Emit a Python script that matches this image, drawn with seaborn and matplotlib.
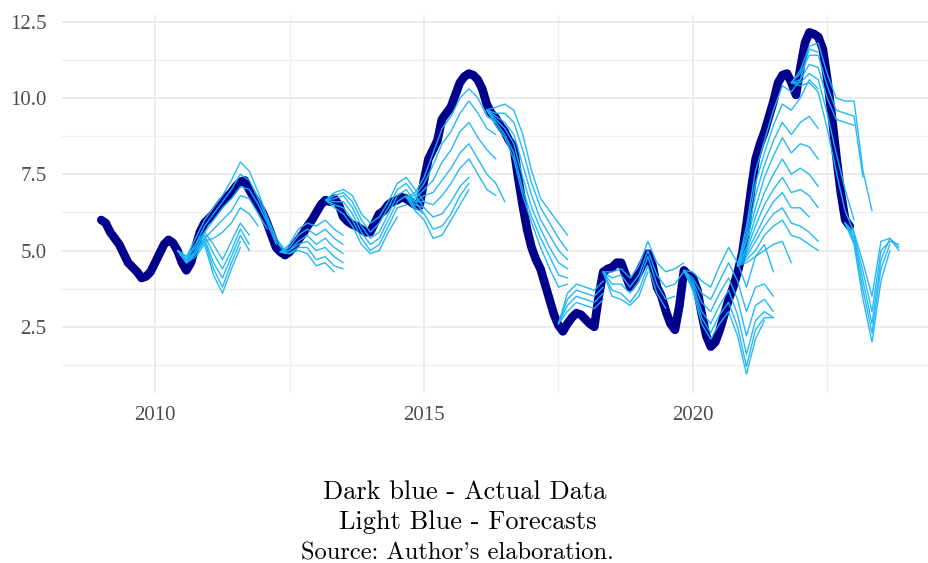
import numpy as np
import pandas as pd
import matplotlib
matplotlib.use("Agg")
import matplotlib.pyplot as plt
import seaborn as sns

# ---------------- data ----------------
actual_start = 2009.0  # monthly series
actual_values = [
    6.0, 5.9, 5.6, 5.4, 5.2, 4.9, 4.6, 4.45, 4.3, 4.1, 4.15, 4.3,          # 2009
    4.6, 4.9, 5.2, 5.35, 5.25, 5.0, 4.6, 4.35, 4.6, 5.1, 5.6, 5.9,         # 2010
    6.05, 6.2, 6.4, 6.6, 6.75, 6.9, 7.1, 7.25, 7.3, 7.0, 6.75, 6.5,        # 2011
    6.25, 5.9, 5.5, 5.1, 4.95, 4.85, 4.95, 5.15, 5.35, 5.55, 5.8, 6.0,     # 2012
    6.25, 6.5, 6.65, 6.6, 6.7, 6.5, 6.1, 5.95, 5.85, 5.8, 5.7, 5.6,        # 2013
    5.6, 5.9, 6.2, 6.3, 6.5, 6.6, 6.65, 6.75, 6.7, 6.6, 6.5, 6.45,         # 2014
    7.3, 8.0, 8.3, 8.6, 9.3, 9.5, 9.7, 10.1, 10.5, 10.7, 10.8, 10.75,      # 2015
    10.6, 10.3, 9.8, 9.5, 9.35, 9.1, 8.9, 8.6, 8.4, 7.4, 6.5, 5.7,         # 2016
    5.1, 4.7, 4.4, 3.9, 3.4, 2.9, 2.55, 2.35, 2.6, 2.8, 2.95, 2.9,         # 2017
    2.75, 2.6, 2.5, 3.5, 4.3, 4.4, 4.45, 4.6, 4.6, 4.2, 3.8, 4.0,          # 2018
    4.3, 4.6, 4.9, 4.5, 3.8, 3.5, 3.0, 2.6, 2.4, 3.2, 4.35, 4.2,           # 2019
    4.1, 3.7, 2.9, 2.2, 1.85, 2.0, 2.4, 2.9, 3.4, 3.8, 4.3, 4.9,           # 2020
    5.9, 7.0, 8.0, 8.5, 8.9, 9.4, 9.9, 10.5, 10.75, 10.8, 10.5, 10.1,      # 2021
    11.0, 11.8, 12.15, 12.1, 12.0, 11.6, 10.6, 9.4, 8.1, 6.9, 6.0, 5.8,    # 2022
]

# forecast paths: values every two months from the block's start date
fc_a_start = 2010.42
fc_a = [
    [5.0, 4.8, 5.4, 6.0, 6.4, 6.8, 7.3, 7.9, 7.6, 6.9, 6.1, 5.4, 5.0],
    [5.0, 4.7, 5.2, 5.8, 6.2, 6.6, 7.0, 7.5, 7.3, 6.7, 6.0, 5.3, 4.9],
    [5.0, 4.6, 5.0, 5.6, 6.0, 6.4, 6.7, 7.1, 7.0, 6.5, 5.9, 5.2],
    [5.0, 4.6, 4.9, 5.4, 5.7, 6.0, 6.3, 6.8, 6.7, 6.2, 5.7],
    [5.0, 4.6, 4.9, 5.3, 5.4, 5.6, 5.9, 6.4, 6.2, 5.8],
    [5.0, 4.8, 5.2, 5.6, 5.2, 4.7, 5.3, 5.9, 5.5],
    [5.0, 4.8, 5.1, 5.5, 4.9, 4.4, 5.0, 5.7, 5.2],
    [5.0, 4.7, 5.0, 5.4, 4.6, 4.1, 4.8, 5.5, 5.0],
    [5.0, 4.7, 4.9, 5.3, 4.4, 3.8, 4.6, 5.3],
    [5.0, 4.6, 4.8, 5.2, 4.2, 3.6, 4.4, 5.1],
]
fc_b_start = 2012.33
fc_b = [
    [4.95, 5.2, 5.7, 5.9, 5.8, 6.0, 5.7, 5.5],
    [4.95, 5.1, 5.5, 5.7, 5.5, 5.7, 5.4, 5.2],
    [4.95, 5.0, 5.3, 5.5, 5.2, 5.4, 5.1, 4.9],
    [4.95, 5.0, 5.2, 5.3, 5.0, 5.1, 4.8, 4.6],
    [4.95, 4.9, 5.1, 5.1, 4.7, 4.8, 4.5, 4.4],
    [4.95, 4.9, 5.0, 4.9, 4.5, 4.6, 4.3],
]
fc_c_start = 2013.17
fc_c = [
    [6.65, 6.9, 7.0, 6.8, 6.2, 5.9, 6.1, 6.6, 7.2, 7.4, 7.0, 6.6],
    [6.65, 6.8, 6.9, 6.6, 6.0, 5.6, 5.9, 6.4, 7.0, 7.2, 6.8, 6.4],
    [6.65, 6.7, 6.8, 6.4, 5.8, 5.4, 5.6, 6.2, 6.8, 7.0, 6.6, 6.2],
    [6.65, 6.6, 6.6, 6.2, 5.6, 5.2, 5.4, 6.0, 6.6, 6.8, 6.4],
    [6.65, 6.5, 6.4, 6.0, 5.4, 5.0, 5.2, 5.8, 6.4, 6.5],
    [6.65, 6.4, 6.2, 5.8, 5.2, 4.9, 5.0, 5.6, 6.1],
]
fc_d_start = 2014.67
fc_d = [
    [6.75, 6.9, 7.4, 8.2, 9.0, 9.4, 10.0, 10.3, 10.0, 9.4, 9.2],
    [6.75, 6.8, 7.2, 7.8, 8.5, 8.9, 9.5, 9.9, 9.5, 9.0, 8.8],
    [6.75, 6.7, 7.0, 7.3, 7.9, 8.3, 8.9, 9.2, 8.7, 8.3, 8.0],
    [6.75, 6.6, 6.8, 6.9, 7.3, 7.7, 8.2, 8.5, 8.0, 7.5, 7.2, 6.6],
    [6.75, 6.6, 6.6, 6.5, 6.8, 7.2, 7.7, 8.0, 7.5, 7.0, 6.8],
    [6.75, 6.5, 6.4, 6.1, 6.2, 6.6, 7.1, 7.4],
    [6.75, 6.4, 6.2, 5.7, 5.8, 6.2, 6.8, 7.2],
    [6.75, 6.3, 6.0, 5.4, 5.5, 6.0, 6.5, 7.0],
]
fc_e_start = 2016.17
fc_e = [
    [9.6, 9.7, 9.8, 9.6, 8.8, 7.6, 6.7, 6.3, 5.9, 5.5],
    [9.6, 9.5, 9.5, 9.2, 8.3, 7.2, 6.4, 5.9, 5.4, 5.0],
    [9.6, 9.4, 9.2, 8.8, 7.8, 6.8, 6.0, 5.5, 5.0, 4.7],
    [9.6, 9.3, 9.0, 8.5, 7.4, 6.4, 5.7, 5.1, 4.6, 4.4],
    [9.6, 9.2, 8.8, 8.2, 7.0, 6.1, 5.4, 4.8, 4.2, 4.1],
    [9.6, 9.1, 8.7, 8.0, 6.8, 5.9, 5.1, 4.4, 3.8, 3.9],
]
fc_f_start = 2017.5
fc_f = [
    [2.6, 3.6, 3.9, 3.8, 3.7, 4.0],
    [2.6, 3.4, 3.7, 3.6, 3.5, 3.8],
    [2.6, 3.2, 3.5, 3.4, 3.3, 3.6],
    [2.6, 3.0, 3.3, 3.2, 3.1, 3.4],
]
fc_g_start = 2018.33
fc_g = [
    [4.3, 4.3, 4.4, 4.1, 4.5, 5.3, 4.6, 4.3, 4.4, 4.6],
    [4.3, 4.1, 4.2, 3.8, 4.2, 5.0, 4.2, 3.8, 3.9, 4.3],
    [4.3, 3.9, 3.9, 3.6, 4.0, 4.8, 3.9, 3.4, 3.5],
    [4.3, 3.7, 3.6, 3.3, 3.7, 4.5, 3.6, 3.1],
    [4.3, 3.5, 3.4, 3.2, 3.5, 4.3],
]
fc_h_start = 2019.83
fc_h = [
    [4.35, 4.3, 4.0, 3.8, 4.5, 5.1, 4.6, 3.8, 4.8, 5.2, 4.3],
    [4.35, 4.1, 3.6, 3.4, 4.0, 4.6, 4.0, 3.0, 3.8, 3.9, 3.5],
    [4.35, 4.0, 3.3, 3.0, 3.6, 4.1, 3.4, 2.2, 3.2, 3.4, 3.0],
    [4.35, 3.9, 3.0, 2.6, 3.2, 3.7, 2.9, 1.6, 2.7, 3.0, 2.8],
    [4.35, 3.8, 2.8, 2.3, 2.9, 3.3, 2.5, 1.2, 2.4, 2.8, 2.8],
    [4.35, 3.7, 2.6, 2.1, 2.6, 3.0, 2.2, 0.95, 2.1, 2.7],
]
fc_i_start = 2020.83
fc_i = [
    [4.5, 5.8, 7.6, 8.6, 9.6, 10.4, 10.2, 10.6, 11.6, 11.5],
    [4.5, 5.6, 7.2, 8.2, 9.1, 9.8, 9.6, 10.0, 10.6, 10.3],
    [4.5, 5.4, 6.8, 7.8, 8.6, 9.2, 8.8, 9.2, 9.4, 9.0],
    [4.5, 5.3, 6.4, 7.4, 8.1, 8.7, 8.2, 8.5, 8.4, 8.0],
    [4.5, 5.1, 6.1, 6.9, 7.5, 8.0, 7.5, 7.7, 7.5, 7.1],
    [4.5, 5.0, 5.8, 6.5, 7.0, 7.4, 6.9, 7.0, 6.8, 6.4],
    [4.5, 4.9, 5.5, 6.1, 6.6, 6.9, 6.4, 6.4, 6.1],
    [4.5, 4.8, 5.3, 5.8, 6.2, 6.4, 5.9, 5.8, 5.6, 5.3],
    [4.5, 4.7, 5.0, 5.5, 5.8, 6.0, 5.5, 5.4, 5.2, 5.0],
    [4.5, 4.6, 4.8, 5.0, 5.2, 5.3, 4.6],
]
fc_j_start = 2021.83
fc_j = [
    [10.5, 10.9, 11.7, 11.8, 10.8, 10.0, 9.9, 9.9, 7.6, 6.3],
    [10.5, 10.8, 11.4, 11.4, 10.4, 9.6, 9.5, 9.4, 7.4],
    [10.5, 10.6, 11.1, 11.0, 10.0, 9.3, 9.2, 9.1],
    [10.5, 10.5, 10.8, 10.6, 9.5, 8.2, 7.0, 6.0],
    [10.5, 10.4, 10.5, 10.2, 9.0, 7.6, 6.3, 5.6],
]
fc_k_start = 2022.83
fc_k = [
    [5.9, 5.6, 4.6, 3.5, 5.3, 5.4, 5.1],
    [5.9, 5.5, 4.3, 3.0, 5.0, 5.3, 5.2],
    [5.9, 5.4, 4.0, 2.6, 4.7, 5.4, 5.0],
    [5.9, 5.3, 3.7, 2.3, 4.4, 5.2],
    [5.9, 5.2, 3.4, 2.0, 4.0, 5.0],
]

x_ticks = [2010, 2015, 2020]
y_ticks = [2.5, 5.0, 7.5, 10.0, 12.5]
caption_lines = ["Dark blue - Actual Data", "Light Blue - Forecasts", "Source: Author's elaboration."]

# ---------------- frames ----------------
actual_df = pd.DataFrame({
    "t": actual_start + np.arange(len(actual_values)) / 12.0,
    "v": actual_values,
})

rows = []
uid = 0
for start, block in [(fc_a_start, fc_a), (fc_b_start, fc_b), (fc_c_start, fc_c),
                     (fc_d_start, fc_d), (fc_e_start, fc_e), (fc_f_start, fc_f),
                     (fc_g_start, fc_g), (fc_h_start, fc_h), (fc_i_start, fc_i),
                     (fc_j_start, fc_j), (fc_k_start, fc_k)]:
    for path in block:
        for i, v in enumerate(path):
            rows.append({"id": uid, "t": start + 2 * i / 12.0, "v": v})
        uid += 1
fc_df = pd.DataFrame(rows)

# ---------------- plot ----------------
sns.set_theme(style="white")
fig = plt.figure(figsize=(9.29, 5.63), dpi=100)
ax = fig.add_axes([62 / 929, 1 - 393 / 563, 1 - 62 / 929, (393 - 15) / 563])
ax.set_facecolor("white")

sns.lineplot(data=actual_df, x="t", y="v", ax=ax, color="#00008B", lw=6.2,
             sort=False, estimator=None, zorder=3)
sns.lineplot(data=fc_df, x="t", y="v", units="id", estimator=None, sort=False,
             ax=ax, color="#19B5F5", lw=1.0, alpha=0.95, zorder=4)

ax.set_xlim(2008.27, 2024.39)
ax.set_ylim(0.33, 12.72)
ax.set_xticks(x_ticks)
ax.set_xticks([2012.5, 2017.5, 2022.5], minor=True)
ax.set_yticks(y_ticks)
ax.set_yticks([1.25, 3.75, 6.25, 8.75, 11.25], minor=True)
ax.set_xticklabels([str(x) for x in x_ticks])
ax.set_yticklabels([f"{y:.1f}" for y in y_ticks])
ax.grid(True, which="major", color="#EBEBEB", lw=1.3)
ax.grid(True, which="minor", color="#EFEFEF", lw=1.0)
ax.set_axisbelow(True)
for s in ax.spines.values():
    s.set_visible(False)
ax.tick_params(which="both", length=0)
ax.tick_params(axis="y", pad=11)
ax.tick_params(axis="x", pad=9)
for lab in ax.get_xticklabels() + ax.get_yticklabels():
    lab.set_fontfamily("Liberation Serif")
    lab.set_fontsize(15)
    lab.set_color("#4D4D4D")
ax.set_xlabel("")
ax.set_ylabel("")

caption_pos = [(465, 499, 19), (468, 529, 19), (457, 559, 17.6)]
for text, (cx, cy, fs) in zip(caption_lines, caption_pos):
    fig.text(cx / 929, 1 - cy / 563, text, ha="center", va="baseline",
             fontsize=fs, family=["cmr10", "DejaVu Serif"], color="black")

fig.savefig("out.png", dpi=100, facecolor="white")
